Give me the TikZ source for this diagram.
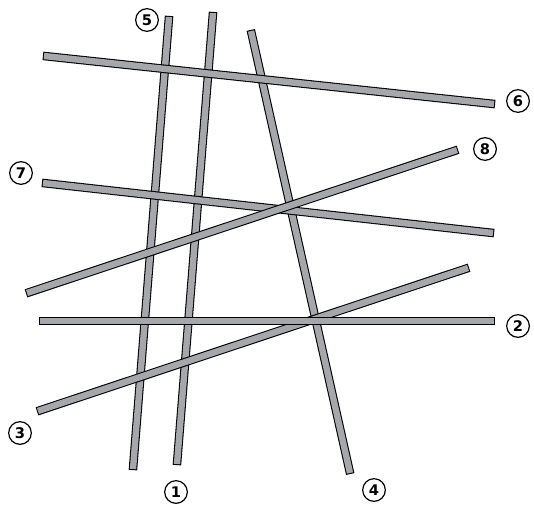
\documentclass[tikz,border=0pt]{standalone}
\usepackage{fontspec}
\setmainfont{DejaVu Sans}
\definecolor{stickgray}{RGB}{166,167,170}
\begin{document}
\begin{tikzpicture}[x=0.75pt,y=-0.75pt,
  lbl/.style={circle,draw=black,line width=0.9pt,minimum size=17pt,inner sep=0pt,font=\bfseries\fontsize{11}{13}\selectfont},
  stickout/.style={draw=black,line width=6.4pt,line cap=butt,shorten <=-0.8pt,shorten >=-0.8pt},
  stickin/.style={draw=stickgray,line width=4.8pt,line cap=butt}]
\useasboundingbox (0,0) rectangle (534,504);
\coordinate (s1a) at (213,13);  \coordinate (s1b) at (177,464);
\coordinate (s5a) at (169,17);  \coordinate (s5b) at (133,469);
\coordinate (s4a) at (251,31);  \coordinate (s4b) at (350,473);
\coordinate (s3a) at (468,268); \coordinate (s3b) at (38,411);
\coordinate (s2a) at (40,321);  \coordinate (s2b) at (494,321);
\coordinate (s7a) at (43,183);  \coordinate (s7b) at (493,233);
\coordinate (s8a) at (457,150); \coordinate (s8b) at (27,293);
\coordinate (s6a) at (44,56);   \coordinate (s6b) at (494,104);
\foreach \s in {1,5,4,3,2,7,8,6}{
  \draw[stickout] (s\s a) -- (s\s b);
  \draw[stickin] (s\s a) -- (s\s b);
}
\node[lbl] (l5) at (147,20) {5};
\node[lbl] (l6) at (518,101) {6};
\node[lbl] (l8) at (485,149) {8};
\node[lbl] (l7) at (21,173) {7};
\node[lbl] (l2) at (518,326) {2};
\node[lbl] (l3) at (20,433) {3};
\node[lbl] (l1) at (176,492) {1};
\node[lbl] (l4) at (374,490) {4};
\end{tikzpicture}
\end{document}
